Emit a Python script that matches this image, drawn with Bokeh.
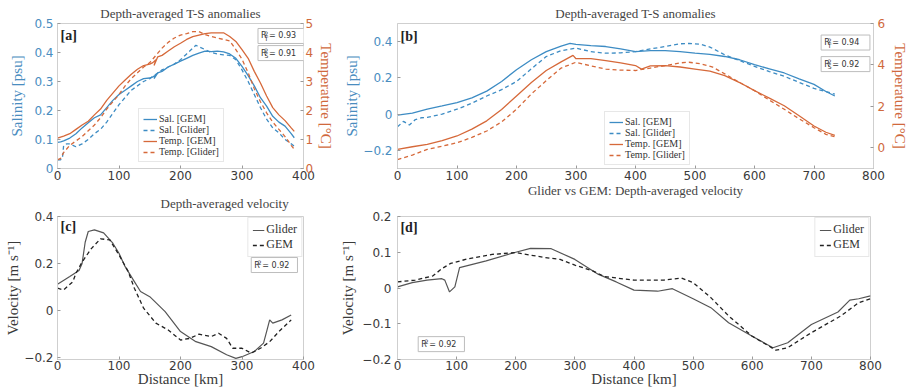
from bokeh.plotting import figure
from bokeh.layouts import column, row
from bokeh.models import LinearAxis, Range1d, Label, FixedTicker
from bokeh.embed import file_html
from bokeh.resources import INLINE

# ---------------- data ----------------
# panel a (distance km, salinity psu / temperature degC)
a_sal_gem_x = [0, 5, 10, 20, 30, 40, 50, 60, 70, 80, 90, 100, 110, 120, 130, 140, 150, 155, 160, 157, 163, 170, 180, 190, 200, 210, 220, 230, 240, 250, 260, 270, 280, 290, 300, 310, 320, 330, 340, 350, 360, 370, 380, 385]
a_sal_gem_y = [0.09, 0.092, 0.095, 0.105, 0.12, 0.14, 0.158, 0.175, 0.185, 0.21, 0.235, 0.255, 0.27, 0.285, 0.3, 0.31, 0.312, 0.316, 0.322, 0.31, 0.33, 0.335, 0.35, 0.36, 0.37, 0.38, 0.39, 0.398, 0.405, 0.403, 0.405, 0.402, 0.395, 0.38, 0.352, 0.32, 0.285, 0.244, 0.215, 0.18, 0.16, 0.146, 0.12, 0.106]
a_sal_gld_x = [0, 5, 8, 10, 15, 20, 25, 30, 40, 50, 60, 70, 80, 90, 100, 110, 120, 130, 140, 150, 160, 170, 180, 190, 200, 210, 220, 225, 230, 240, 250, 260, 270, 280, 290, 300, 310, 320, 330, 340, 350, 360, 370, 380, 385]
a_sal_gld_y = [0.03, 0.03, 0.035, 0.08, 0.085, 0.085, 0.08, 0.075, 0.085, 0.1, 0.12, 0.135, 0.16, 0.19, 0.22, 0.245, 0.27, 0.285, 0.3, 0.31, 0.325, 0.34, 0.35, 0.36, 0.375, 0.395, 0.415, 0.425, 0.42, 0.41, 0.4, 0.395, 0.392, 0.39, 0.375, 0.34, 0.3, 0.255, 0.21, 0.17, 0.14, 0.123, 0.1, 0.085, 0.077]
a_tmp_gem_x = [0, 10, 20, 30, 40, 50, 60, 70, 80, 90, 100, 110, 120, 130, 140, 150, 155, 160, 157, 163, 170, 180, 190, 200, 210, 220, 230, 240, 250, 260, 270, 280, 290, 300, 310, 320, 330, 340, 350, 360, 370, 380, 385]
a_tmp_gem_y = [1.05, 1.12, 1.2, 1.35, 1.5, 1.63, 1.85, 2.05, 2.35, 2.6, 2.85, 3.05, 3.25, 3.42, 3.55, 3.6, 3.65, 3.75, 3.55, 3.85, 3.9, 4.05, 4.2, 4.32, 4.45, 4.55, 4.6, 4.65, 4.68, 4.68, 4.68, 4.55, 4.38, 4.1, 3.8, 3.35, 2.95, 2.5, 2.1, 1.85, 1.65, 1.4, 1.28]
a_tmp_gld_x = [0, 5, 10, 20, 30, 40, 50, 60, 70, 80, 90, 100, 110, 120, 130, 140, 150, 160, 170, 180, 190, 200, 210, 220, 230, 240, 250, 260, 270, 280, 290, 300, 310, 320, 330, 340, 350, 360, 370, 380, 385]
a_tmp_gld_y = [0.3, 0.35, 0.55, 0.8, 0.95, 1.1, 1.3, 1.5, 1.75, 2.05, 2.3, 2.55, 2.85, 3.1, 3.3, 3.5, 3.65, 3.9, 4.15, 4.35, 4.5, 4.6, 4.65, 4.72, 4.72, 4.62, 4.55, 4.5, 4.45, 4.4, 4.1, 3.77, 3.3, 2.75, 2.3, 1.92, 1.6, 1.35, 1.1, 0.8, 0.66]

# panel b
b_x = [0, 25, 50, 75, 100, 125, 150, 175, 200, 225, 250, 275, 290, 300, 325, 350, 375, 400, 425, 450, 475, 500, 525, 550, 575, 600, 625, 650, 675, 700, 720, 735]
b_sal_gem = [-0.005, 0.005, 0.027, 0.045, 0.064, 0.09, 0.127, 0.18, 0.245, 0.3, 0.345, 0.375, 0.39, 0.385, 0.378, 0.373, 0.36, 0.345, 0.35, 0.35, 0.345, 0.336, 0.33, 0.318, 0.3, 0.273, 0.25, 0.227, 0.195, 0.164, 0.125, 0.1]
b_sal_gld_x = [0, 10, 20, 30, 40, 50, 75, 100, 125, 150, 175, 200, 225, 250, 275, 300, 325, 350, 375, 400, 425, 450, 475, 490, 510, 525, 550, 575, 600, 625, 650, 675, 700, 720, 735]
b_sal_gld_y = [-0.07, -0.04, -0.06, -0.03, -0.02, -0.018, 0.0, 0.027, 0.06, 0.1, 0.135, 0.18, 0.25, 0.318, 0.35, 0.364, 0.345, 0.336, 0.338, 0.345, 0.36, 0.373, 0.388, 0.39, 0.385, 0.37, 0.327, 0.295, 0.264, 0.235, 0.209, 0.175, 0.142, 0.125, 0.11]
b_tmp_gem_x = [0, 25, 50, 75, 100, 125, 150, 175, 200, 225, 250, 275, 295, 300, 325, 350, 375, 400, 410, 425, 450, 475, 500, 525, 550, 575, 600, 625, 650, 675, 700, 720, 735]
b_tmp_gem_y = [-0.08, 0.05, 0.16, 0.35, 0.57, 0.9, 1.3, 1.85, 2.5, 3.15, 3.73, 4.15, 4.46, 4.3, 4.3, 4.21, 4.1, 3.97, 3.8, 3.95, 3.97, 3.9, 3.8, 3.7, 3.48, 3.15, 2.76, 2.4, 2.03, 1.55, 1.05, 0.75, 0.6]
b_tmp_gld_x = [0, 25, 50, 75, 100, 125, 150, 175, 200, 225, 250, 275, 300, 325, 350, 375, 400, 425, 450, 475, 490, 510, 530, 550, 575, 600, 625, 650, 675, 700, 720, 735]
b_tmp_gld_y = [-0.57, -0.35, -0.08, 0.08, 0.24, 0.5, 0.81, 1.25, 1.86, 2.6, 3.24, 3.85, 4.13, 3.95, 3.8, 3.75, 3.73, 3.85, 3.97, 4.1, 4.13, 4.05, 3.89, 3.57, 3.15, 2.76, 2.3, 1.86, 1.4, 0.97, 0.65, 0.53]

# panel c (velocity m/s)
c_gld_x = [0, 20, 35, 40, 45, 50, 60, 75, 90, 100, 110, 125, 135, 150, 175, 200, 225, 250, 275, 290, 300, 320, 335, 340, 345, 350, 365, 380]
c_gld_y = [0.111, 0.144, 0.17, 0.2, 0.29, 0.336, 0.343, 0.33, 0.286, 0.243, 0.186, 0.122, 0.08, 0.058, -0.006, -0.091, -0.134, -0.155, -0.19, -0.205, -0.198, -0.176, -0.14, -0.091, -0.041, -0.055, -0.041, -0.02]
c_gem_x = [0, 10, 25, 30, 40, 55, 70, 85, 100, 115, 125, 140, 160, 180, 200, 215, 230, 250, 262, 275, 285, 300, 315, 330, 345, 360, 380]
c_gem_y = [0.094, 0.087, 0.122, 0.158, 0.206, 0.263, 0.305, 0.3, 0.236, 0.165, 0.094, 0.009, -0.055, -0.084, -0.127, -0.12, -0.102, -0.112, -0.098, -0.12, -0.162, -0.162, -0.183, -0.162, -0.134, -0.091, -0.041]

# panel d
d_gld_x = [0, 25, 50, 75, 80, 88, 97, 105, 150, 200, 225, 260, 300, 340, 370, 400, 440, 465, 500, 530, 560, 600, 635, 660, 700, 745, 765, 780, 800]
d_gld_y = [0.003, 0.015, 0.022, 0.026, 0.022, -0.011, 0.003, 0.057, 0.076, 0.1, 0.111, 0.11, 0.08, 0.038, 0.017, -0.006, -0.009, -0.002, -0.03, -0.055, -0.097, -0.135, -0.167, -0.153, -0.102, -0.067, -0.034, -0.03, -0.022]
d_gem_x = [0, 30, 60, 75, 90, 120, 160, 200, 250, 275, 300, 330, 350, 400, 450, 480, 500, 530, 560, 600, 640, 660, 700, 750, 780, 800]
d_gem_y = [0.017, 0.022, 0.034, 0.054, 0.069, 0.082, 0.094, 0.099, 0.085, 0.08, 0.064, 0.048, 0.032, 0.022, 0.022, 0.028, 0.015, -0.027, -0.078, -0.135, -0.174, -0.167, -0.125, -0.078, -0.041, -0.03]

# ticks
ticks_x400 = [0, 100, 200, 300, 400]
ticks_x800 = [0, 100, 200, 300, 400, 500, 600, 700, 800]
ticks_a_sal = [0, 0.1, 0.2, 0.3, 0.4, 0.5]
ticks_a_tmp = [0, 1, 2, 3, 4, 5]
ticks_b_sal = [-0.2, 0, 0.2, 0.4]
ticks_b_tmp = [0, 2, 4, 6]
ticks_c_vel = [-0.2, 0, 0.2, 0.4]
ticks_d_vel = [-0.2, -0.1, 0, 0.1, 0.2]

# ---------------- style ----------------
BLUE = "#3d8cc4"
ORANGE = "#d6693a"
BLUE_T = "#4a8dbf"
ORANGE_T = "#d0693d"
DARK = "#3a3a3a"
GREYLINE = "#555555"
SERIF = "Liberation Serif"
SANS = "DejaVu Sans"


def make_fig(fw, fh, xr, yr, bl, br, bt, bb):
    p = figure(frame_width=fw, frame_height=fh, x_range=Range1d(*xr), y_range=Range1d(*yr),
               output_backend="svg", toolbar_location=None,
               min_border_left=bl, min_border_right=br, min_border_top=bt, min_border_bottom=bb)
    p.xgrid.visible = False
    p.ygrid.visible = False
    p.outline_line_color = "#cfcfcf"
    p.background_fill_color = "white"
    p.border_fill_color = "white"
    p.title.text_font = SERIF
    p.title.text_font_style = "normal"
    p.title.text_color = "#444444"
    p.title.text_font_size = "13px"
    return p


def style_axis(ax, ticks, tick_color, label_color, ls=2, als=2):
    ax.ticker = FixedTicker(ticks=ticks)
    ax.major_label_text_font = SANS
    ax.major_label_text_font_size = "12px"
    ax.major_label_text_color = tick_color
    ax.axis_line_color = "#cfcfcf"
    ax.major_tick_line_color = "#9a9a9a"
    ax.major_tick_in = 3
    ax.major_tick_out = 0
    ax.minor_tick_line_color = None
    ax.axis_label_text_font = SERIF
    ax.axis_label_text_font_style = "normal"
    ax.axis_label_text_font_size = "15px"
    ax.axis_label_text_color = label_color
    ax.major_label_standoff = ls
    ax.axis_label_standoff = als


def panel_label(p, x, y, txt):
    p.add_layout(Label(x=x, y=y, text=txt, text_font=SERIF, text_font_style="bold",
                       text_font_size="14px", text_color="#222222", text_baseline="top"))


def r2box(p, x, y, sub, val, sx, sy):
    p.add_layout(Label(x=x, y=y, text="R    = " + val if sub else "R   = " + val,
                       text_font=SANS, text_font_size="8px", text_color="#333333",
                       text_baseline="middle", border_line_color="#bdbdbd",
                       background_fill_color="white", padding=3))
    p.add_layout(Label(x=x + 6.5 * sx, y=y + 2.5 * sy, text="2", text_font=SANS,
                       text_font_size="6px", text_color="#333333", text_baseline="middle"))
    if sub:
        p.add_layout(Label(x=x + 6.5 * sx, y=y - 2.5 * sy, text=sub, text_font=SANS,
                           text_font_size="6px", text_color="#333333", text_baseline="middle"))


def style_legend(p, loc, size, gw=14):
    lg = p.legend[0]
    lg.location = loc
    lg.label_text_font = SERIF
    lg.label_text_font_size = size
    lg.label_text_color = "#333333"
    lg.label_height = 10
    lg.glyph_height = 10
    lg.glyph_width = gw
    lg.spacing = 0
    lg.padding = 4
    lg.margin = 1
    lg.label_standoff = 2
    lg.border_line_color = "#cfcfcf"
    lg.background_fill_alpha = 1.0


FH1 = 145
FH2 = 143

# ---------------- panel a ----------------
pa = make_fig(246, FH1, (0, 400), (0, 0.5), 57, 30, 21, 16)
pa.title.text = "Depth-averaged T-S anomalies"
pa.title.align = "center"
pa.title.standoff = 6
pa.extra_y_ranges = {"temp": Range1d(0, 5)}
pa.line(a_sal_gem_x, a_sal_gem_y, color=BLUE, line_width=1.3, legend_label="Sal. [GEM]")
pa.line(a_sal_gld_x, a_sal_gld_y, color=BLUE, line_width=1.3, line_dash="4 3", legend_label="Sal. [Glider]")
pa.line(a_tmp_gem_x, a_tmp_gem_y, color=ORANGE, line_width=1.3, y_range_name="temp", legend_label="Temp. [GEM]")
pa.line(a_tmp_gld_x, a_tmp_gld_y, color=ORANGE, line_width=1.3, line_dash="4 3", y_range_name="temp", legend_label="Temp. [Glider]")
style_axis(pa.xaxis[0], ticks_x400, "#3a3a3a", DARK, 2, 0)
style_axis(pa.yaxis[0], ticks_a_sal, BLUE_T, BLUE_T, 4, 6)
pa.yaxis[0].axis_label = "Salinity [psu]"
ax_ra = LinearAxis(y_range_name="temp", axis_label="Temperature [°C]")
style_axis(ax_ra, ticks_a_tmp, ORANGE_T, ORANGE_T, 2, 2)
pa.add_layout(ax_ra, "right")
style_legend(pa, (81, 6), "10px")
panel_label(pa, 5, 0.483, "[a]")
sxa, sya = 400 / 246, 0.5 / FH1
r2box(pa, 326, 0.457, "T", "0.93", sxa, sya)
r2box(pa, 326, 0.398, "S", "0.91", sxa, sya)

# ---------------- panel b (its x-axis label is the title of panel d) ----------------
pb = make_fig(476, FH1, (0, 800), (-0.3, 0.5), 48, 40, 21, 32)
pb.title.text = "Depth-averaged T-S anomalies"
pb.title.align = "center"
pb.title.standoff = 6
pb.extra_y_ranges = {"temp": Range1d(-1, 6)}
pb.line(b_x, b_sal_gem, color=BLUE, line_width=1.3, legend_label="Sal. [GEM]")
pb.line(b_sal_gld_x, b_sal_gld_y, color=BLUE, line_width=1.3, line_dash="4 3", legend_label="Sal. [Glider]")
pb.line(b_tmp_gem_x, b_tmp_gem_y, color=ORANGE, line_width=1.3, y_range_name="temp", legend_label="Temp. [GEM]")
pb.line(b_tmp_gld_x, b_tmp_gld_y, color=ORANGE, line_width=1.3, line_dash="4 3", y_range_name="temp", legend_label="Temp. [Glider]")
style_axis(pb.xaxis[0], ticks_x800, "#3a3a3a", "#444444", 2, 0)
pb.xaxis[0].axis_label = "Glider vs GEM: Depth-averaged velocity"
pb.xaxis[0].axis_label_text_font_size = "13px"
style_axis(pb.yaxis[0], ticks_b_sal, BLUE_T, BLUE_T, 5, 0)
pb.yaxis[0].axis_label = "Salinity [psu]"
ax_rb = LinearAxis(y_range_name="temp", axis_label="Temperature [°C]")
style_axis(ax_rb, ticks_b_tmp, ORANGE_T, ORANGE_T, 4, 4)
pb.add_layout(ax_rb, "right")
style_legend(pb, (207, 3), "10px")
panel_label(pb, 5, 0.472, "[b]")
sxb, syb = 800 / 476, 0.8 / FH1
r2box(pb, 712, 0.395, "T", "0.94", sxb, syb)
r2box(pb, 712, 0.276, "S", "0.92", sxb, syb)

# ---------------- panel c ----------------
pc = make_fig(246, FH2, (0, 400), (-0.21, 0.4), 57, 30, 32, 33)
pc.title.text = "Depth-averaged velocity"
pc.title.align = "left"
pc.title.offset = 103
pc.title.standoff = 11
pc.line(c_gld_x, c_gld_y, color=GREYLINE, line_width=1.2, legend_label="Glider")
pc.line(c_gem_x, c_gem_y, color="#222222", line_width=1.3, line_dash="4 3", legend_label="GEM")
style_axis(pc.xaxis[0], ticks_x400, "#3a3a3a", DARK, 1, -2)
style_axis(pc.yaxis[0], ticks_c_vel, "#3a3a3a", DARK, 4, 0)
pc.xaxis[0].axis_label = "Distance [km]"
pc.yaxis[0].axis_label = "Velocity [m s⁻¹]"
style_legend(pc, "top_right", "12px", 12)
panel_label(pc, 5, 0.39, "[c]")
sxc, syc = 400 / 246, 0.61 / FH2
r2box(pc, 315, 0.193, "", "0.92", sxc, syc)

# ---------------- panel d ----------------
pd_ = make_fig(473, FH2, (0, 800), (-0.2, 0.2), 49, 44, 16, 33)
pd_.line(d_gld_x, d_gld_y, color=GREYLINE, line_width=1.2, legend_label="Glider")
pd_.line(d_gem_x, d_gem_y, color="#222222", line_width=1.3, line_dash="4 3", legend_label="GEM")
style_axis(pd_.xaxis[0], ticks_x800, "#3a3a3a", DARK, 1, -2)
style_axis(pd_.yaxis[0], ticks_d_vel, "#3a3a3a", DARK, 6, 3)
pd_.xaxis[0].axis_label = "Distance [km]"
pd_.yaxis[0].axis_label = "Velocity [m s⁻¹]"
style_legend(pd_, "top_right", "12px", 12)
panel_label(pd_, 5, 0.19, "[d]")
sxd, syd = 800 / 473, 0.4 / FH2
r2box(pd_, 35, -0.157, "", "0.92", sxd, syd)

layout = row(column(pa, pc), column(pb, pd_))
open("out.html", "w").write(file_html(layout, INLINE))
